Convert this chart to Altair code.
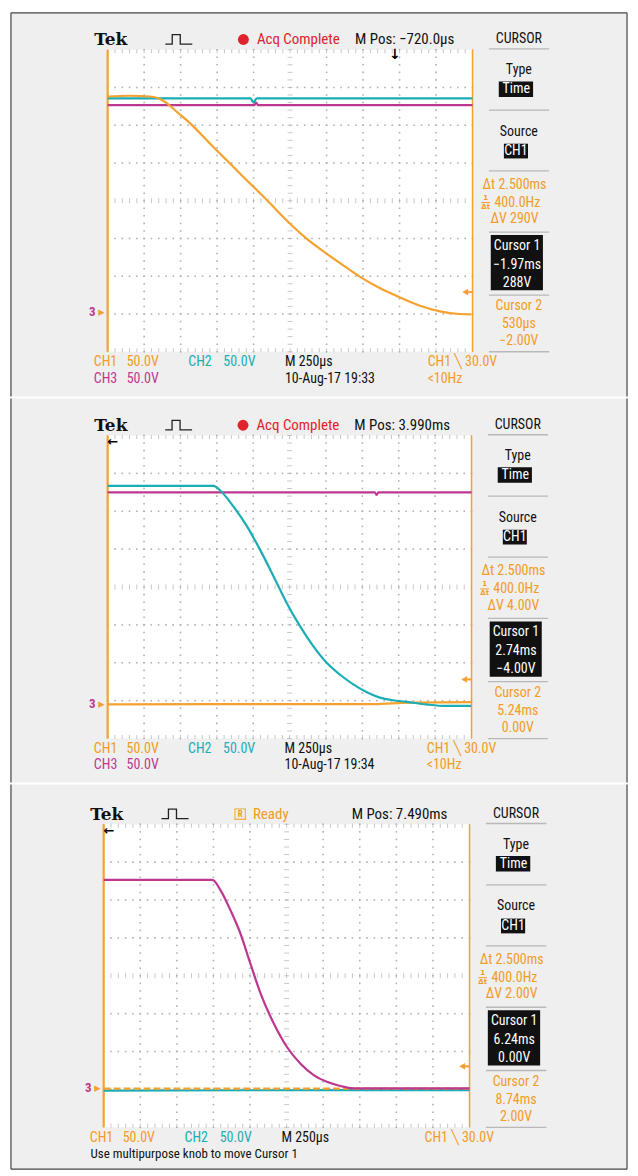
import altair as alt
import pandas as pd

# ====================== DATA ======================
# time t in screen divisions (0..10, M 250 us/div); level v in divisions (0 = screen centre, 50 V/div)
P1_CH1_T = [0, 0.6, 1.17, 1.45, 1.63, 1.90, 2.18, 2.91, 3.64, 4.37, 5.0, 5.46, 6.0, 6.56, 7.01, 7.47, 8.01, 8.56, 9.11, 9.65, 9.97]
P1_CH1_V = [2.76, 2.78, 2.76, 2.69, 2.58, 2.35, 2.12, 1.41, 0.71, 0.01, -0.61, -1.01, -1.40, -1.78, -2.07, -2.32, -2.56, -2.78, -2.93, -3.0, -3.01]
P1_CH2_T = [0, 3.92, 4.0, 4.08, 10]
P1_CH2_V = [2.71, 2.71, 2.60, 2.71, 2.71]
P1_CH3_T = [0, 4.02, 4.07, 4.12, 10]
P1_CH3_V = [2.53, 2.53, 2.60, 2.53, 2.53]

P2_CH1_T = [0, 3.0, 7.3, 8.3, 10]
P2_CH1_V = [-3.10, -3.09, -3.09, -3.05, -3.04]
P2_CH2_T = [0, 2.91, 3.10, 3.46, 3.83, 4.19, 4.56, 4.92, 5.29, 5.65, 6.02, 6.38, 6.75, 7.11, 7.48, 7.84, 8.21, 8.76, 9.30, 9.99]
P2_CH2_V = [2.67, 2.67, 2.54, 2.12, 1.60, 0.98, 0.28, -0.42, -1.04, -1.56, -2.0, -2.31, -2.57, -2.77, -2.92, -2.99, -3.03, -3.10, -3.14, -3.14]
P2_CH3_T = [0, 7.34, 7.39, 7.44, 10]
P2_CH3_V = [2.50, 2.50, 2.43, 2.50, 2.50]

P3_CH1_T = [0, 10]
P3_CH1_V = [-2.98, -2.98]
P3_CH2_T = [0, 6.5, 10]
P3_CH2_V = [-3.03, -3.02, -3.02]
P3_CH3_T = [0, 2.97, 3.20, 3.47, 3.74, 4.01, 4.29, 4.65, 5.01, 5.38, 5.74, 6.10, 6.47, 6.83, 7.19, 10]
P3_CH3_V = [2.53, 2.53, 2.25, 1.72, 1.11, 0.32, -0.47, -1.26, -1.88, -2.32, -2.62, -2.80, -2.91, -2.97, -2.97, -2.97]

TRACES = [
    {"CH2": (P1_CH2_T, P1_CH2_V), "CH3": (P1_CH3_T, P1_CH3_V), "CH1": (P1_CH1_T, P1_CH1_V)},
    {"CH1": (P2_CH1_T, P2_CH1_V), "CH3": (P2_CH3_T, P2_CH3_V), "CH2": (P2_CH2_T, P2_CH2_V)},
    {"CH2": (P3_CH2_T, P3_CH2_V), "CH1": (P3_CH1_T, P3_CH1_V), "CH3": (P3_CH3_T, P3_CH3_V)},
]
GROUND_LEVEL = [-2.94, -3.08, -2.97]
TRIG_LEVEL = [-2.42, -2.44, -2.39]
TRIG_POS = [7.87, None, None]

# texts
STATUS = ["Acq Complete", "Acq Complete", "Ready"]
MPOS = ["M Pos: \u2212720.0\u00b5s", "M Pos: 3.990ms", "M Pos: 7.490ms"]
DT = ["\u0394t 2.500ms"] * 3
FREQ = ["400.0Hz"] * 3
DV = ["\u0394V 290V", "\u0394V 4.00V", "\u0394V 2.00V"]
C1 = [("\u22121.97ms", "288V"), ("2.74ms", "\u22124.00V"), ("6.24ms", "0.00V")]
C2 = [("530\u00b5s", "\u22122.00V"), ("5.24ms", "0.00V"), ("8.74ms", "2.00V")]
DATE = ["10-Aug-17 19:33", "10-Aug-17 19:34", None]
FOOT = [None, None, "Use multipurpose knob to move Cursor 1"]

# ====================== STYLE / LAYOUT ======================
ORANGE = "#f4a12e"
CYAN = "#1aadb5"
MAGENTA = "#bd3790"
RED = "#e0222b"
TXT_OR = "#f29b26"
GRID = "#b0b0b0"
COL = {"CH1": ORANGE, "CH2": CYAN, "CH3": MAGENTA}
FONT = "Roboto Condensed, DejaVu Sans Condensed, Roboto, sans-serif"

# plot-area pixel geometry of each screen: left, right, top, bottom, panel top, panel bottom
GEOM = [(107, 473, 47, 350, 10, 395), (107, 472, 432, 736, 395, 780), (103, 470, 820, 1124, 780, 1166)]
FRAME_L, FRAME_R = 10, 628


def panel(i):
    L, R, T, B, top, bot = GEOM[i]
    dx, dy, yc = (R - L) / 10, (B - T) / 8, (T + B) / 2
    xdom = [(FRAME_L - L) / dx, (FRAME_R - L) / dx]
    ydom = [(yc - bot) / dy, (yc - top) / dy]
    xs = alt.Scale(domain=xdom, nice=False, zero=False)
    ys = alt.Scale(domain=ydom, nice=False, zero=False)
    X = lambda f: alt.X(f + ":Q", scale=xs, axis=None)
    Y = lambda f: alt.Y(f + ":Q", scale=ys, axis=None)
    layers = []

    def text(rows, **kw):
        df = pd.DataFrame(rows, columns=["x", "y", "text"])
        kw.setdefault("font", FONT)
        kw.setdefault("fontSize", 14)
        layers.append(alt.Chart(df).mark_text(**kw).encode(x=X("x"), y=Y("y"), text="text:N"))

    def rect(rows, **kw):
        df = pd.DataFrame(rows, columns=["x", "x2", "y", "y2"])
        layers.append(alt.Chart(df).mark_rect(**kw).encode(x=X("x"), x2="x2:Q", y=Y("y"), y2="y2:Q"))

    def rule(rows, **kw):
        df = pd.DataFrame(rows, columns=["x", "x2", "y", "y2"])
        layers.append(alt.Chart(df).mark_rule(**kw).encode(x=X("x"), x2="x2:Q", y=Y("y"), y2="y2:Q"))

    def ticks(rows, **kw):
        df = pd.DataFrame(rows, columns=["x", "y"])
        layers.append(alt.Chart(df).mark_tick(**kw).encode(x=X("x"), y=Y("y")))

    # screen
    rect([(0, 10, -4, 4)], fill="white")
    mx = [round(k * 0.2, 2) for k in range(51)]
    my = [round(-4 + k * 0.2, 2) for k in range(41)]
    dots = [(g, y) for g in [1, 2, 3, 4, 6, 7, 8, 9] for y in my] + \
           [(x, g) for g in [-3, -2, -1, 1, 2, 3] for x in mx]
    layers.append(alt.Chart(pd.DataFrame(dots, columns=["x", "y"])).mark_square(
        size=2.5, color=GRID, opacity=1).encode(x=X("x"), y=Y("y")))
    ticks([(5, y) for y in my], orient="horizontal", size=5, thickness=1, color=GRID)
    ticks([(x, 0) for x in mx], orient="vertical", size=5, thickness=1, color=GRID)
    ticks([(x, 3.96) for x in mx] + [(x, -3.96) for x in mx], orient="vertical", size=4, thickness=1, color=GRID)
    rule([(0, 0, -4, 4)], color=ORANGE, strokeWidth=2.2)
    rule([(10, 10, -4, 4)], color=ORANGE, strokeWidth=1.5)

    # traces
    for ch, (t, v) in TRACES[i].items():
        df = pd.DataFrame({"t": t, "v": v, "k": range(len(t))})
        kw = dict(color=COL[ch], strokeWidth=2.2, interpolate="monotone")
        if i == 2 and ch == "CH1":
            kw["strokeDash"] = [7, 3]
        layers.append(alt.Chart(df).mark_line(**kw).encode(x=X("t"), y=Y("v"), order="k:Q"))

    # markers
    g = GROUND_LEVEL[i]
    text([(-0.42, g, "3")], color=MAGENTA, fontSize=13, fontWeight="bold")
    text([(-0.17, g, "\u25b8")], color=ORANGE, fontSize=13, font="DejaVu Sans")
    tl = TRIG_LEVEL[i]
    layers.append(alt.Chart(pd.DataFrame({"x": [9.8], "y": [tl]})).mark_point(
        shape="triangle-left", filled=True, size=45, color=ORANGE, opacity=1).encode(x=X("x"), y=Y("y")))
    rule([(9.8, 10, tl, tl)], color=ORANGE, strokeWidth=2)
    if TRIG_POS[i] is not None:
        text([(TRIG_POS[i], 3.85, "\u2193")], fontSize=14, fontWeight="bold", font="DejaVu Sans", color="black")
    else:
        text([(0.14, 3.83, "\u2190")], fontSize=13, fontWeight="bold", font="DejaVu Sans", color="black")

    # header
    text([(-0.37, 4.25, "Tek")], align="left", font="DejaVu Serif", fontWeight="bold", fontSize=17, color="#111")
    icon = pd.DataFrame({"x": [1.58, 1.77, 1.77, 1.99, 1.99, 2.32], "y": [4.15, 4.15, 4.40, 4.40, 4.15, 4.15],
                         "k": range(6)})
    layers.append(alt.Chart(icon).mark_line(color="#222", strokeWidth=1.3).encode(x=X("x"), y=Y("y"), order="k:Q"))
    if STATUS[i] == "Ready":
        layers.append(alt.Chart(pd.DataFrame({"x": [3.73], "y": [4.27]})).mark_square(
            size=110, filled=False, color=TXT_OR, strokeWidth=1.3).encode(x=X("x"), y=Y("y")))
        text([(3.73, 4.26, "R")], fontSize=9, color=TXT_OR, fontWeight="bold")
        text([(4.08, 4.27, STATUS[i])], align="left", color=TXT_OR, fontSize=15)
    else:
        layers.append(alt.Chart(pd.DataFrame({"x": [3.72], "y": [4.27]})).mark_circle(
            size=120, color=RED, opacity=1).encode(x=X("x"), y=Y("y")))
        text([(4.09, 4.27, STATUS[i])], align="left", color=RED, fontSize=15)
    text([(6.78, 4.27, MPOS[i])], align="left", color="#111", fontSize=15)

    # right-hand cursor menu
    cx, bx = 11.27, 11.2
    rule([(10.45, 12.1, y, y) for y in [4.02, 2.4, 0.79, -0.83, -2.5, -4.0]], color="#b8b8b8", strokeWidth=1.3)
    text([(cx, 4.27, "CURSOR"), (cx, 3.46, "Type"), (cx, 1.83, "Source")], color="#111", fontSize=14)
    rect([(10.72, 11.66, 2.75, 3.16), (10.86, 11.52, 1.12, 1.51), (10.5, 11.93, -2.37, -0.91)], fill="#111")
    text([(bx + 0.0, 2.955, "Time"), (bx - 0.01, 1.31, "CH1"),
          (bx + 0.02, -1.2, "Cursor 1"), (bx + 0.02, -1.7, C1[i][0]), (bx + 0.02, -2.17, C1[i][1])],
         color="white", fontSize=14)
    text([(11.15, 0.41, DT[i]), (11.15, -0.49, DV[i]),
          (cx, -2.8, "Cursor 2"), (cx, -3.27, C2[i][0]), (cx, -3.72, C2[i][1])], color=TXT_OR, fontSize=14)
    text([(10.6, -0.05, FREQ[i])], align="left", color=TXT_OR, fontSize=14)
    text([(10.36, 0.07, "1"), (10.36, -0.17, "\u0394t")], color=TXT_OR, fontSize=7, fontWeight="bold", font="DejaVu Sans")
    rule([(10.24, 10.48, -0.05, -0.05)], color=TXT_OR, strokeWidth=1)

    # bottom information rows
    r1, r2 = -4.28, -4.71
    text([(-0.38, r1, "CH1"), (0.52, r1, "50.0V"), (8.77, r1, "CH1 \u2572 30.0V")], align="left", color=TXT_OR, fontSize=14)
    text([(2.21, r1, "CH2"), (3.17, r1, "50.0V")], align="left", color=CYAN, fontSize=14)
    text([(4.86, r1, "M 250\u00b5s")], align="left", color="#111", fontSize=14)
    if DATE[i]:
        text([(-0.38, r2, "CH3"), (0.52, r2, "50.0V")], align="left", color=MAGENTA, fontSize=14)
        text([(4.86, r2, DATE[i])], align="left", color="#111", fontSize=14)
        text([(8.77, r2, "<10Hz")], align="left", color=TXT_OR, fontSize=14)
    if FOOT[i]:
        text([(-0.36, r2, FOOT[i])], align="left", color="#111", fontSize=13)

    # outer frame
    rule([(xdom[0], xdom[0], ydom[0], ydom[1]), (xdom[1], xdom[1], ydom[0], ydom[1])], color="#444", strokeWidth=1.2)
    if i == 0:
        rule([(xdom[0], xdom[1], ydom[1], ydom[1])], color="#444", strokeWidth=1.2)
    if i == 2:
        rule([(xdom[0], xdom[1], ydom[0], ydom[0])], color="#444", strokeWidth=1.2)

    return alt.layer(*layers).properties(width=FRAME_R - FRAME_L, height=bot - top)


chart = alt.vconcat(*[panel(i) for i in range(3)], spacing=0).resolve_scale(
    x="independent", y="independent"
).properties(
    padding={"left": 10, "right": 10, "top": 10, "bottom": 10}, background="white"
).configure_view(fill="#efefef", stroke=None).configure_concat(spacing=0)

chart.save("out.html", embed_options={"renderer": "svg", "actions": False})
